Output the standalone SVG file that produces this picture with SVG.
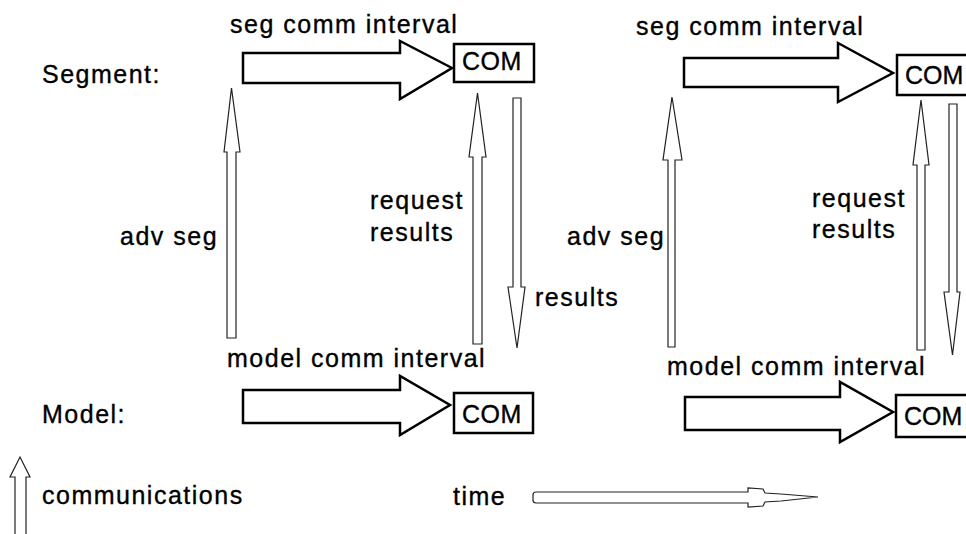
<svg xmlns="http://www.w3.org/2000/svg" width="966" height="534" viewBox="0 0 966 534">
<style>
text{font-family:"Liberation Sans",Arial,sans-serif;font-size:25px;letter-spacing:1.5px;fill:#000;stroke:#000;stroke-width:0.35}
.com{letter-spacing:0.5px}
.big{fill:#fff;stroke:#000;stroke-width:2.5;stroke-linejoin:miter}
.box{fill:#fff;stroke:#000;stroke-width:2.5}
.thin{fill:#fff;stroke:#222;stroke-width:1.2;stroke-linejoin:miter}
</style>
<rect width="966" height="534" fill="#fff"/>
<g id="labels">
<text x="42" y="83">Segment:</text>
<text x="42" y="423">Model:</text>
<text x="42" y="504">communications</text>
<text x="453" y="505">time</text>
</g>
<g id="seg1">
<text x="230" y="33">seg comm interval</text>
<polygon class="big" points="243,53 400,53 400,41 452,68 400,99 400,83 243,83"/>
</g>
<g id="com-seg1">
<rect class="box" x="454" y="44" width="80" height="38"/>
<text class="com" x="462" y="70">COM</text>
</g>
<g id="model1">
<text x="227" y="367">model comm interval</text>
<polygon class="big" points="243,390 400,390 400,376 450,405 400,435 400,423 243,423"/>
</g>
<g id="com-model1">
<rect class="box" x="454" y="393" width="79" height="40"/>
<text class="com" x="462" y="423">COM</text>
</g>
<g id="seg2">
<text x="636" y="35">seg comm interval</text>
<polygon class="big" points="684,58 838,58 838,43 893,73 838,102 838,87 684,87"/>
</g>
<g id="com-seg2">
<rect class="box" x="897" y="55" width="80" height="40"/>
<text class="com" x="905" y="84" style="letter-spacing:0">COM</text>
</g>
<g id="model2">
<text x="667" y="375">model comm interval</text>
<polygon class="big" points="685,397 840,397 840,382 893,412 840,442 840,430 685,430"/>
</g>
<g id="com-model2">
<rect class="box" x="896" y="395" width="80" height="42"/>
<text class="com" x="904" y="425" style="letter-spacing:0">COM</text>
</g>
<g id="connectors">
<polygon class="thin" points="227,338 227,152 224,152 231.5,88 240,152 236,152 236,338"/>
<polygon class="thin" points="473,344 473,157 469,157 477.5,93 486,157 482,157 482,344"/>
<polygon class="thin" points="513,98 513,287 508,287 517,348 525,287 521,287 521,98"/>
<polygon class="thin" points="668,347 668,160 663,160 672,97 682,160 675,160 675,347"/>
<polygon class="thin" points="917,350 917,165 913,165 921,100 929,165 925,165 925,350"/>
<polygon class="thin" points="949,104 949,292 944,292 952.5,355 960,292 957,292 957,104"/>
<polygon class="thin" points="15,540 15,477 10,477 20,457 30,477 26,477 26,540"/>
<path class="thin" stroke-width="1.5" d="M536,492 L748,492 L748,488 L763,489 L765,493 L781,494 L818,497 L781,501 L765,502 L763,506 L748,507 L748,503 L536,503 Q533,503 533,500 L533,495 Q533,492 536,492 Z"/>
</g>
<g id="side-labels">
<text x="120" y="245">adv seg</text>
<text x="370" y="209">request</text>
<text x="370" y="241">results</text>
<text x="535" y="306">results</text>
<text x="567" y="245">adv seg</text>
<text x="812" y="207">request</text>
<text x="812" y="238">results</text>
</g>
</svg>
